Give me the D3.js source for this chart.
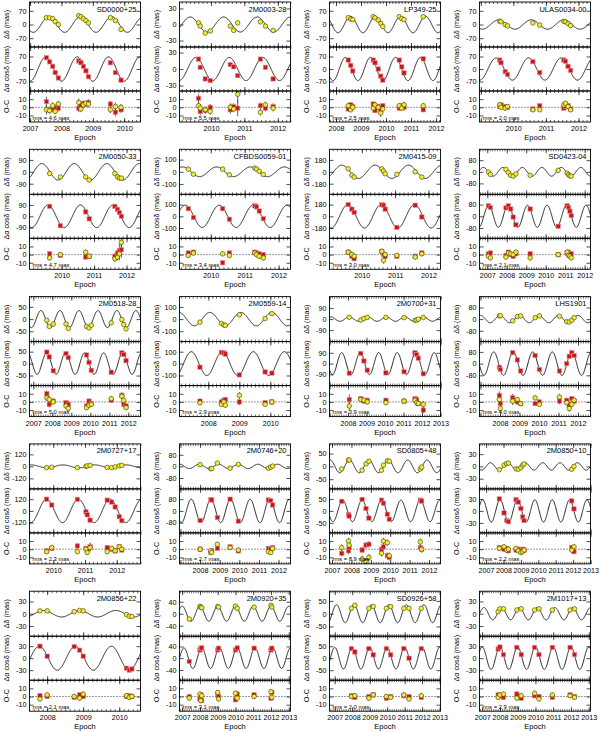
<!DOCTYPE html>
<html><head><meta charset="utf-8">
<script src="https://cdn.jsdelivr.net/npm/d3@7"></script>
<style>
body{margin:0;background:#fff}
svg{display:block}
text{font-family:"Liberation Sans",Arial,Helvetica,sans-serif;fill:#000}
</style></head>
<body><svg id="c" width="600" height="732"></svg>
<script>
// ---------------- data ----------------
const names = ["SD0000+25","2M0003-28","LP349-25","ULAS0034-00","2M0050-33","CFBDS0059-01","2M0415-09","SD0423-04","2M0518-28","2M0559-14","2M0700+31","LHS1901","2M0727+17","2M0746+20","SD0805+48","2M0850+10","2M0856+22","2M0920+35","SD0926+58","2M1017+13"];
const xDomains = [[2006.98,2010.52],[2009.06,2012.38],[2007.74,2012.18],[2008.96,2012.37],[2009.01,2012.43],[2009.08,2012.35],[2009.03,2012.36],[2006.6,2012.3],[2006.8,2012.64],[2007.07,2010.65],[2007.0,2013.0],[2006.95,2012.64],[2009.25,2012.75],[2006.95,2012.61],[2006.87,2012.59],[2006.62,2013.0],[2007.51,2010.59],[2006.85,2013.1],[2006.7,2013.05],[2006.85,2013.1]];
const yearTicks = [[2007,2008,2009,2010],[2010,2011,2012],[2008,2009,2010,2011,2012],[2010,2011,2012],[2010,2011,2012],[2010,2011,2012],[2010,2011,2012],[2007,2008,2009,2010,2011,2012],[2007,2008,2009,2010,2011,2012],[2008,2009,2010],[2008,2009,2010,2011,2012,2013],[2008,2009,2010,2011,2012],[2010,2011,2012],[2008,2009,2010,2011,2012],[2007,2008,2009,2010,2011,2012],[2007,2008,2009,2010,2011,2012,2013],[2008,2009,2010],[2007,2008,2009,2010,2011,2012,2013],[2007,2008,2009,2010,2011,2012,2013],[2007,2008,2009,2010,2011,2012,2013]];
const decHalf = [115,42,115,115,170,185,340,155,92,185,184,155,225,155,88,55,55,75,88,55];
const decTick = [70,30,70,70,90,100,180,80,50,100,90,80,120,80,50,30,30,40,50,30];
const raHalf  = [123,40,123,123,175,188,338,150,92,185,184,150,225,150,92,55,55,75,92,55];
const raTick  = [70,30,70,70,90,100,180,80,50,100,90,80,120,80,50,30,30,40,50,30];
const decAmp  = [40,14,42,24,62,40,100,30,35,55,18,25,15,15,25,9,8,25,35,15];
const decPeak = [2007.6,2009.38,2008.58,2009.55,2009.39,2009.17,2009.40,2006.8,2007.4,2008.05,2008.07,2008.0,2010.3,2007.95,2007.9,2008.25,2007.9,2008.0,2008.1,2008.1];
const raAmp   = [68,21,65,62,90,95,180,75,45,100,92,80,120,80,45,28,30,35,45,28];
const raPeak  = [2007.5,2009.55,2008.38,2009.47,2009.58,2009.25,2009.58,2007.07,2007.7,2008.45,2008.66,2008.68,2009.79,2008.55,2008.55,2007.8,2007.78,2008.1,2008.0,2008.0];
const rmsText = ["4.6","5.5","2.5","2.0","4.7","3.4","3.0","2.1","5.0","2.9","3.9","4.0","2.3","2.7","8.9","2.2","2.1","3.1","2.0","2.9"];
const ocRange = [-18,20];
const ocTicks = [-10,0,10];

const epochs = [
 [2007.52,2007.62,2007.72,2007.80,2007.90,2008.55,2008.62,2008.70,2008.78,2008.86,2009.56,2009.72,2009.90],
 [2009.63,2009.68,2009.83,2009.98,2010.58,2010.68,2010.80,2011.48,2011.63,2011.86],
 [2008.49,2008.59,2008.67,2009.49,2009.56,2009.69,2009.79,2009.87,2010.53,2010.63,2010.72,2011.49],
 [2009.58,2009.62,2009.75,2009.82,2010.60,2010.81,2011.55,2011.60,2011.68,2011.76],
 [2009.63,2009.96,2010.74,2010.85,2011.64,2011.72,2011.78,2011.84],
 [2009.34,2009.49,2010.35,2010.55,2011.30,2011.35,2011.43,2011.55],
 [2009.59,2009.70,2009.77,2010.60,2010.65,2010.70,2011.05,2011.60,2011.80],
 [2007.06,2007.16,2007.96,2008.08,2008.20,2008.33,2008.47,2009.20,2010.64,2011.10,2011.17,2011.24,2011.31],
 [2007.71,2007.84,2008.05,2008.72,2008.84,2009.80,2009.93,2010.05,2011.10,2011.66,2011.76,2011.88],
 [2007.73,2008.42,2008.5,2008.55,2009.0,2009.83,2010.05],
 [2008.07,2008.69,2008.86,2009.04,2010.05,2011.03,2011.62,2011.71,2011.8,2012.07],
 [2007.97,2008.02,2008.65,2008.89,2009.06,2009.80,2010.02,2011.05,2011.42,2011.55,2011.68,2011.8],
 [2009.79,2009.95,2010.76,2011.03,2011.07,2011.16,2011.70,2011.84,2011.95,2012.08,2012.16],
 [2008.0,2008.54,2008.59,2008.88,2009.53,2009.95,2011.48,2011.6,2011.7],
 [2007.5,2007.85,2007.88,2008.55,2008.75,2008.9,2009.55,2009.65,2009.85,2009.95,2011.55,2011.62],
 [2007.76,2008.03,2008.18,2008.28,2008.72,2008.85,2009.0,2009.1,2009.18,2011.92,2012.05],
 [2007.8,2008.0,2008.75,2008.9,2009.0,2010.2,2010.28,2010.35],
 [2007.4,2008.0,2008.05,2008.1,2009.0,2009.05,2010.0,2010.1,2011.05,2012.0,2012.05],
 [2007.95,2008.15,2008.95,2009.2,2009.95,2010.2,2010.95,2011.25,2011.95],
 [2007.9,2008.0,2008.2,2008.95,2009.2,2009.95,2010.2,2010.95,2011.95,2012.2]
];
const decObs = [
 [35,34,30,15,0,45,40,30,20,8,35,20,-25],
 [3,-3,-16,-12,-3,-11,3,5,-3,-11],
 [35,28,25,40,34,23,5,-10,40,30,25,40],
 [17,14,0,-7,8,-3,16,14,5,-5],
 [-13,-39,-39,-62,-13,-38,-48,-48],
 [22,-20,22,-25,30,22,5,-22],
 [45,-50,-80,45,10,-30,-40,0,-80],
 [-2,-19,16,-5,-24,-30,-15,-24,10,-9,-20,-28,-30],
 [-5,-30,-20,-20,-38,-30,-36,-25,-15,-2,-22,-40],
 [-25,-35,-48,-52,35,5,45],
 [15,-8,5,14,14,12,-10,-8,0,14],
 [22,24,-12,18,22,10,22,20,-18,-20,-8,10],
 [-12,-8,-12,0,5,10,-10,-12,-5,5,10],
 [12,-16,-14,23,-12,14,-12,-5,2],
 [-10,25,25,-15,10,20,-15,5,22,20,-10,-3],
 [-8,3,7,8,-6,-7,-3,3,6,-7,0],
 [7,7,5,8,7,-2,-6,-7],
 [-18,25,22,20,24,22,25,18,22,28,22],
 [21,33,21,28,21,28,21,21,21],
 [5,12,12,9,12,9,12,9,9,12]
];
const raObs = [
 [63,40,15,-20,-50,45,35,15,-10,-43,35,-20,-62],
 [18,3,-18,-21,8,4,-12,18,3,-18],
 [50,20,-11,50,35,0,-40,-62,50,12,-22,57],
 [50,35,-15,-30,41,-20,50,43,15,-8],
 [79,-75,35,-20,79,55,30,0],
 [65,-10,65,-25,90,80,45,-20],
 [180,110,60,178,170,110,-170,170,-10],
 [72,60,58,72,50,-5,-58,50,-68,72,60,35,5],
 [48,28,-30,42,25,36,5,-28,-36,45,38,12],
 [-30,95,90,80,-95,-70,-80],
 [-80,85,22,-55,-78,-68,90,75,45,-85],
 [-25,-40,75,25,-50,55,-40,-50,0,50,75,55],
 [120,60,118,-10,-40,-95,110,90,40,-60,-100],
 [-65,75,75,-45,80,-70,75,70,40],
 [40,-15,-22,48,10,-30,45,32,-14,-35,45,41],
 [30,-5,-24,-27,28,22,6,-15,-24,25,5],
 [30,5,29,20,5,-25,-30,-27],
 [-11,28,34,35,28,34,28,35,34,28,34],
 [40,26,40,14,40,14,40,0,40],
 [23,28,9,27,9,27,9,27,27,9]
];
const ocDec = [
 [-3,-4,2,-5,4,6,-2,3,5,4,-3,1,0],
 [2,-1,-3,-5,0,-2,16,-6,3,-1],
 [2,-3,0,-1,3,0,-7,-2,2,-1,3,2],
 [3,0,-1,1,-3,-3,3,5,1,-3],
 [-4,0,3,-2,-5,-3,1,15],
 [-1,2,1,-1,2,0,-2,-4],
 [3,0,-2,4,-7,0,-1,-3,1],
 [-2,-4,-3,2,1,0,3,-4,0,3,-1,-2,-4],
 [5,3,0,-5,-8,-7,-4,-3,4,7,2,-7],
 [-1,-3,0,-4,8,-3,0],
 [-5,3,2,0,-1,1,2,-1,-2,-3],
 [3,-8,1,3,-2,5,-3,6,-1,-8,-3,2],
 [-3,2,-3,0,-4,2,-3,1,-2,3,0],
 [0,-2,-4,6,2,-1,-3,-4,1],
 [2,10,5,-12,-15,-10,-5,10,8,-8,9,0],
 [1,3,-1,0,1,-2,-4,-3,-1,-1,3],
 [-3,2,0,-2,3,1,-1,0],
 [-2,3,-5,1,5,-3,4,-2,0,6,-1],
 [0,1,-2,2,0,-1,2,-3,1],
 [-1,2,3,-2,1,4,-3,2,1,-1]
];
const ocRa = [
 [7,-3,-2,0,-1,-1,2,5,4,6,4,-6,-3],
 [11,-5,-4,0,-3,1,-1,2,-1,1],
 [-2,3,1,4,-4,1,-3,2,-1,2,0,-3],
 [1,3,1,0,-2,2,-1,1,2,-2],
 [1,-1,-3,-2,-2,2,5,6],
 [2,3,-10,2,3,2,1,0],
 [3,-2,-5,4,0,-2,-2,-2,2],
 [1,2,-1,3,0,-2,1,1,0,2,3,0,1],
 [10,-3,1,-1,-3,-5,1,-2,2,8,-3,-5],
 [1,0,2,3,0,-1,0],
 [3,4,1,2,2,1,4,3,-2,-10],
 [8,-2,5,0,-2,-2,0,1,2,-4,4,1],
 [-2,1,4,1,0,3,2,0,-2,3,-1],
 [0,-4,-2,1,3,-2,1,0,2],
 [-5,-2,2,-1,5,6,0,3,-8,-10,2,0],
 [2,0,1,-2,-1,0,-1,0,-1,2,-3],
 [1,0,-1,2,0,0,1,0],
 [0,-3,2,-5,1,0,-4,3,2,-2,5],
 [1,-1,0,2,-2,0,1,0,-1],
 [2,0,-1,3,-2,1,0,-1,2,0]
];
const ocErr = [
 [6,4,4,3,4,5,4,3,3,4,4,5,4],
 [5,5,4,4,5,4,10,4,4,4],
 [3,3,3,3,3,3,5,3,3,3,4,3],
 [3,3,3,2,2,2,3,3,3,2],
 [3,3,3,3,4,4,8,10],
 [3,3,3,3,3,3,3,3],
 [3,4,3,3,4,3,3,3,3],
 [3,3,3,3,3,3,3,3,3,3,3,3,3],
 [4,4,3,3,4,3,3,3,3,4,3,3],
 [3,3,3,3,4,3,3],
 [6,3,3,3,3,3,3,4,3,4],
 [5,4,5,3,3,3,3,4,3,4,3,3],
 [3,3,3,3,3,5,3,3,3,3,3],
 [3,3,3,3,3,3,3,3,3],
 [4,4,4,4,4,4,4,4,4,4,4,4],
 [3,3,3,3,3,3,3,3,3,3,3],
 [3,3,3,3,3,3,3,3],
 [3,3,3,3,3,3,3,3,3,3,3],
 [3,3,3,3,3,3,3,3,3],
 [3,3,3,3,3,3,3,3,3,3]
];

// ---------------- layout ----------------
const svg = d3.select('#c');
const colX0 = 29.5, colDX = 150, plotW = 111;
const rowY0 = 2, rowDY = 147.3;
const H = [45, 44, 31];
const FS = 7.2;
const FONT = '"Liberation Sans",Arial,Helvetica,sans-serif';

function drawAxes(g, x, y, top, h, yTicks) {
  const minors = [];
  const [a, b] = x.domain();
  for (let t = Math.ceil(a * 8) / 8; t <= b; t += 0.125) minors.push(+t.toFixed(3));
  const yrs = d3.range(Math.ceil(a), Math.floor(b) + 1);
  [[d3.axisBottom, top + h], [d3.axisTop, top]].forEach(([fn, yy]) => {
    g.append('g').attr('transform', `translate(0,${yy})`)
      .call(fn(x).tickValues(minors).tickSize(-2).tickFormat(''))
      .call(s => s.select('.domain').remove())
      .selectAll('line').attr('stroke', '#000').attr('stroke-width', 0.6);
    g.append('g').attr('transform', `translate(0,${yy})`)
      .call(fn(x).tickValues(yrs).tickSize(-4).tickFormat(''))
      .call(s => s.select('.domain').remove())
      .selectAll('line').attr('stroke', '#000').attr('stroke-width', 0.7);
  });
  const ax = g.append('g').attr('transform', `translate(${x.range()[0]},0)`)
    .call(d3.axisLeft(y).tickValues(yTicks).tickSize(-4).tickPadding(3).tickFormat(d => String(d)));
  ax.select('.domain').remove();
  ax.selectAll('line').attr('stroke', '#000').attr('stroke-width', 0.7);
  ax.selectAll('text').attr('font-size', FS).attr('font-family', FONT);
  const ar = g.append('g').attr('transform', `translate(${x.range()[1]},0)`)
    .call(d3.axisRight(y).tickValues(yTicks).tickSize(-4).tickFormat(''));
  ar.select('.domain').remove();
  ar.selectAll('line').attr('stroke', '#000').attr('stroke-width', 0.7);
  g.append('rect').attr('x', x.range()[0]).attr('y', top).attr('width', plotW).attr('height', h)
    .attr('fill', 'none').attr('stroke', '#000').attr('stroke-width', 0.9);
}

names.forEach((nm, i) => {
  const c = i % 4, r = Math.floor(i / 4);
  const L = colX0 + c * colDX, T = rowY0 + r * rowDY;
  const g = svg.append('g');
  const x = d3.scaleLinear().domain(xDomains[i]).range([L, L + plotW]);
  const tops = [T, T + H[0], T + H[0] + H[1]];
  const yD = d3.scaleLinear().domain([-decHalf[i], decHalf[i]]).range([tops[0] + H[0], tops[0]]);
  const yR = d3.scaleLinear().domain([-raHalf[i], raHalf[i]]).range([tops[1] + H[1], tops[1]]);
  const yO = d3.scaleLinear().domain(ocRange).range([tops[2] + H[2], tops[2]]);

  const clipId = 'clip' + i;
  const defs = g.append('defs');
  [0, 1, 2].forEach(k => defs.append('clipPath').attr('id', clipId + '_' + k)
    .append('rect').attr('x', L).attr('y', tops[k]).attr('width', plotW).attr('height', H[k]));

  const [a, b] = xDomains[i];
  const ts = d3.range(0, 401).map(k => a + (b - a) * k / 400);
  const line = d3.line();
  g.append('path').attr('clip-path', `url(#${clipId}_0)`)
    .attr('d', line(ts.map(t => [x(t), yD(decAmp[i] * Math.cos(2 * Math.PI * (t - decPeak[i])))])))
    .attr('fill', 'none').attr('stroke', '#111').attr('stroke-width', 0.9);
  g.append('path').attr('clip-path', `url(#${clipId}_1)`)
    .attr('d', line(ts.map(t => [x(t), yR(raAmp[i] * Math.cos(2 * Math.PI * (t - raPeak[i])))])))
    .attr('fill', 'none').attr('stroke', '#111').attr('stroke-width', 0.9);

  g.append('line').attr('x1', L).attr('x2', L + plotW).attr('y1', yO(0)).attr('y2', yO(0))
    .attr('stroke', '#000').attr('stroke-width', 0.8).attr('stroke-dasharray', '1,2');

  const ep = epochs[i];
  g.append('g').attr('clip-path', `url(#${clipId}_0)`).selectAll('circle').data(ep).join('circle')
    .attr('cx', t => x(t)).attr('cy', (t, j) => yD(decObs[i][j])).attr('r', 2.3)
    .attr('fill', '#f2ec2e').attr('stroke', '#3a3a1a').attr('stroke-width', 0.6);
  g.append('g').attr('clip-path', `url(#${clipId}_1)`).selectAll('rect').data(ep).join('rect')
    .attr('x', t => x(t) - 2.2).attr('y', (t, j) => yR(raObs[i][j]) - 2.2).attr('width', 4.4).attr('height', 4.4)
    .attr('fill', '#c41a1f').attr('stroke', '#ea9090').attr('stroke-width', 0.6);

  const go = g.append('g').attr('clip-path', `url(#${clipId}_2)`);
  ep.forEach((t, j) => {
    const e = ocErr[i][j];
    [ocRa[i][j], ocDec[i][j]].forEach(v => {
      go.append('line').attr('x1', x(t)).attr('x2', x(t)).attr('y1', yO(v - e)).attr('y2', yO(v + e))
        .attr('stroke', '#222').attr('stroke-width', 0.7);
    });
  });
  go.selectAll('rect.r').data(ep).join('rect').attr('class', 'r')
    .attr('x', t => x(t) - 2.2).attr('y', (t, j) => yO(ocRa[i][j]) - 2.2).attr('width', 4.4).attr('height', 4.4)
    .attr('fill', '#c41a1f').attr('stroke', '#ea9090').attr('stroke-width', 0.6);
  go.selectAll('circle.y').data(ep).join('circle').attr('class', 'y')
    .attr('cx', t => x(t)).attr('cy', (t, j) => yO(ocDec[i][j])).attr('r', 2.3)
    .attr('fill', '#f2ec2e').attr('stroke', '#3a3a1a').attr('stroke-width', 0.6);

  drawAxes(g, x, yD, tops[0], H[0], [-decTick[i], 0, decTick[i]]);
  drawAxes(g, x, yR, tops[1], H[1], [-raTick[i], 0, raTick[i]]);
  drawAxes(g, x, yO, tops[2], H[2], ocTicks);

  const bx = g.append('g').attr('transform', `translate(0,${tops[2] + H[2]})`)
    .call(d3.axisBottom(x).tickValues(yearTicks[i]).tickSize(0).tickPadding(4).tickFormat(d => String(d)));
  bx.select('.domain').remove();
  bx.selectAll('text').attr('font-size', FS).attr('font-family', FONT);

  g.append('text').attr('x', L + plotW / 2).attr('y', tops[2] + H[2] + 18).attr('text-anchor', 'middle')
    .attr('font-size', 7.5).text('Epoch');
  g.append('text').attr('x', L + plotW - 4).attr('y', T + 9.5).attr('text-anchor', 'end')
    .attr('font-size', 7.5).text(nm);
  g.append('text').attr('x', L + 3).attr('y', tops[2] + H[2] - 2.5)
    .attr('font-size', 5.8).text('rms = ' + rmsText[i] + ' mas');

  const ylabs = ['\u0394\u03b4 (mas)', '\u0394\u03b1 cos\u03b4 (mas)', 'O-C'];
  ylabs.forEach((s, k) => {
    const cy = tops[k] + H[k] / 2;
    g.append('text').attr('transform', `translate(${L - 21},${cy}) rotate(-90)`)
      .attr('text-anchor', 'middle').attr('font-size', 7.2).text(s);
  });
});
</script></body></html>
